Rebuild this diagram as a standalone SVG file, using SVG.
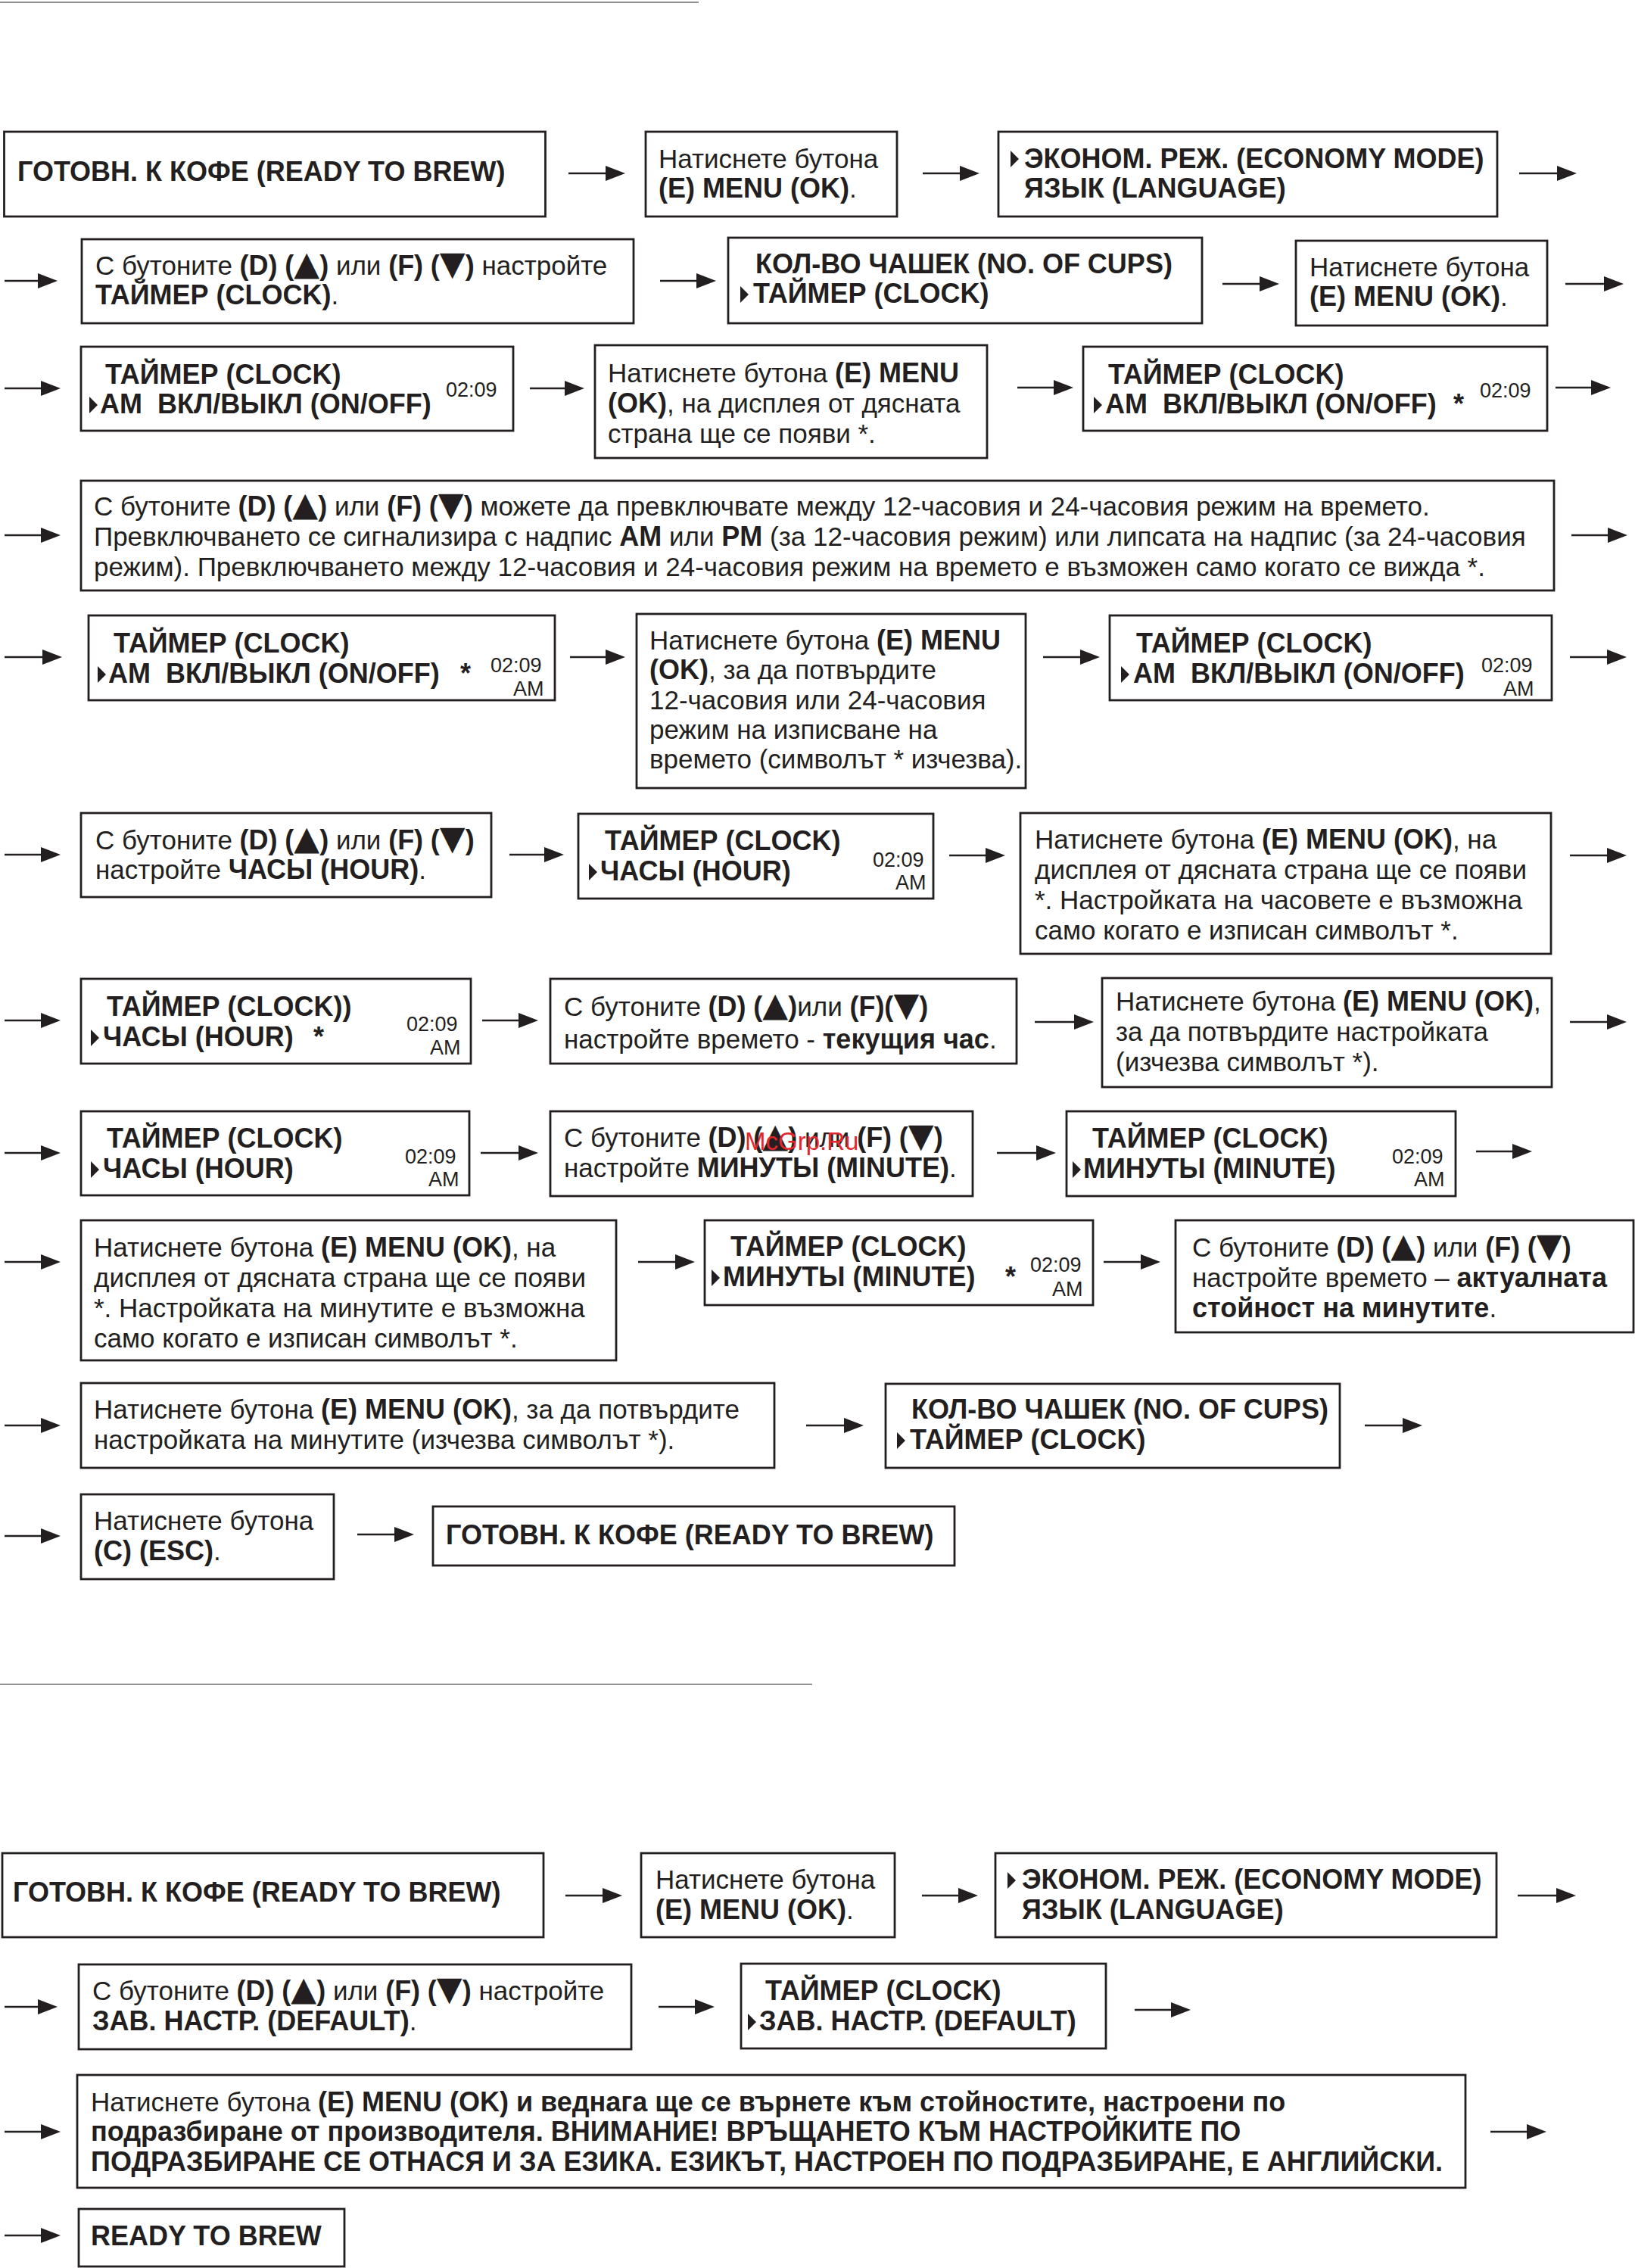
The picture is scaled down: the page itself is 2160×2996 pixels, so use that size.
<svg xmlns="http://www.w3.org/2000/svg" width="2160" height="2996" viewBox="0 0 2160 2996">
<defs>
<style>
.t{font-family:"Liberation Sans",Arial,sans-serif;font-size:35px;fill:#231f20;white-space:pre}
.b{font-weight:bold;font-size:36px}
.s{font-size:27px}
.tri{font-family:"DejaVu Sans","Liberation Sans",sans-serif;font-size:44px;font-weight:normal}
.box{fill:#fff;stroke:#231f20;stroke-width:2.8}
.ar{stroke:#231f20;stroke-width:2.6;fill:none;marker-end:url(#ah)}
.ptr{fill:#231f20}
.rule{stroke:#6d6e71;stroke-width:1.6}
.wm{font-family:"Liberation Sans",Arial,sans-serif;font-size:33px;fill:#e3262b}
</style>
<marker id="ah" markerUnits="userSpaceOnUse" markerWidth="26" markerHeight="20" viewBox="0 0 26 20" refX="6" refY="10" orient="auto">
<path d="M0,0 L26,10 L0,20 z" fill="#231f20"/>
</marker>
</defs>
<rect width="2160" height="2996" fill="#fff"/>
<line class="rule" x1="0" y1="3" x2="923" y2="3"/>
<line class="rule" x1="0" y1="2225" x2="1073" y2="2225"/>

<g id="connectors">
<line class="ar" x1="751" y1="229" x2="806" y2="229"/>
<line class="ar" x1="1219" y1="229" x2="1274" y2="229"/>
<line class="ar" x1="2007" y1="229" x2="2063" y2="229"/>
<line class="ar" x1="6" y1="371" x2="56" y2="371"/>
<line class="ar" x1="872" y1="371" x2="926" y2="371"/>
<line class="ar" x1="1615" y1="375" x2="1670" y2="375"/>
<line class="ar" x1="2068" y1="375" x2="2125" y2="375"/>
<line class="ar" x1="6" y1="513" x2="60" y2="513"/>
<line class="ar" x1="700" y1="513" x2="752" y2="513"/>
<line class="ar" x1="1344" y1="512" x2="1398" y2="512"/>
<line class="ar" x1="2055" y1="512" x2="2108" y2="512"/>
<line class="ar" x1="6" y1="707" x2="60" y2="707"/>
<line class="ar" x1="2076" y1="707" x2="2130" y2="707"/>
<line class="ar" x1="6" y1="868" x2="62" y2="868"/>
<line class="ar" x1="753" y1="868" x2="806" y2="868"/>
<line class="ar" x1="1378" y1="868" x2="1433" y2="868"/>
<line class="ar" x1="2074" y1="868" x2="2129" y2="868"/>
<line class="ar" x1="6" y1="1129" x2="60" y2="1129"/>
<line class="ar" x1="673" y1="1129" x2="725" y2="1129"/>
<line class="ar" x1="1254" y1="1130" x2="1308" y2="1130"/>
<line class="ar" x1="2074" y1="1130" x2="2129" y2="1130"/>
<line class="ar" x1="6" y1="1348" x2="60" y2="1348"/>
<line class="ar" x1="637" y1="1348" x2="691" y2="1348"/>
<line class="ar" x1="1367" y1="1350" x2="1425" y2="1350"/>
<line class="ar" x1="2074" y1="1350" x2="2129" y2="1350"/>
<line class="ar" x1="6" y1="1523" x2="60" y2="1523"/>
<line class="ar" x1="635" y1="1523" x2="691" y2="1523"/>
<line class="ar" x1="1317" y1="1523" x2="1375" y2="1523"/>
<line class="ar" x1="1950" y1="1521" x2="2004" y2="1521"/>
<line class="ar" x1="6" y1="1667" x2="60" y2="1667"/>
<line class="ar" x1="843" y1="1667" x2="898" y2="1667"/>
<line class="ar" x1="1458" y1="1667" x2="1513" y2="1667"/>
<line class="ar" x1="6" y1="1883" x2="60" y2="1883"/>
<line class="ar" x1="1065" y1="1883" x2="1121" y2="1883"/>
<line class="ar" x1="1803" y1="1883" x2="1859" y2="1883"/>
<line class="ar" x1="6" y1="2029" x2="60" y2="2029"/>
<line class="ar" x1="472" y1="2027" x2="527" y2="2027"/>
<line class="ar" x1="747" y1="2504" x2="802" y2="2504"/>
<line class="ar" x1="1218" y1="2504" x2="1272" y2="2504"/>
<line class="ar" x1="2005" y1="2504" x2="2062" y2="2504"/>
<line class="ar" x1="6" y1="2651" x2="56" y2="2651"/>
<line class="ar" x1="870" y1="2651" x2="924" y2="2651"/>
<line class="ar" x1="1499" y1="2655" x2="1553" y2="2655"/>
<line class="ar" x1="6" y1="2816" x2="60" y2="2816"/>
<line class="ar" x1="1969" y1="2816" x2="2023" y2="2816"/>
<line class="ar" x1="6" y1="2953" x2="60" y2="2953"/>
</g>

<g id="nA"><rect class="box" x="5.5" y="174" width="715" height="112"/>
<text class="t b" x="23" y="239">ГОТОВН. К КОФЕ (READY TO BREW)</text></g>

<g id="nB"><rect class="box" x="853" y="174" width="332" height="112"/>
<text class="t" x="870" y="222">Натиснете бутона</text>
<text class="t" x="870" y="261"><tspan class="b">(E) MENU (OK)</tspan>.</text></g>

<g id="nC"><rect class="box" x="1319" y="174" width="659" height="112"/>
<polygon class="ptr" points="1335,199 1346,210 1335,221"/>
<text class="t b" x="1353" y="222">ЭКОНОМ. РЕЖ. (ECONOMY MODE)</text>
<text class="t b" x="1353" y="261">ЯЗЫК (LANGUAGE)</text></g>

<g id="nD"><rect class="box" x="108" y="316" width="729" height="111"/>
<text class="t" x="126" y="363">С бутоните <tspan class="b">(D)</tspan> <tspan class="b">(<tspan class="tri">▲</tspan>)</tspan> или <tspan class="b">(F)</tspan> <tspan class="b">(<tspan class="tri">▼</tspan>)</tspan> настройте</text>
<text class="t" x="126" y="402"><tspan class="b">ТАЙМЕР (CLOCK)</tspan>.</text></g>

<g id="nE"><rect class="box" x="962" y="314" width="626" height="113"/>
<text class="t b" x="998" y="361">КОЛ-ВО ЧАШЕК (NO. OF CUPS)</text>
<polygon class="ptr" points="978,378 989,389 978,400"/>
<text class="t b" x="995" y="400">ТАЙМЕР (CLOCK)</text></g>

<g id="nF"><rect class="box" x="1712" y="318" width="332" height="112"/>
<text class="t" x="1730" y="365">Натиснете бутона</text>
<text class="t" x="1730" y="404"><tspan class="b">(E) MENU (OK)</tspan>.</text></g>

<g id="nG"><rect class="box" x="107" y="458" width="571" height="111"/>
<text class="t b" x="139" y="507">ТАЙМЕР (CLOCK)</text>
<polygon class="ptr" points="118,524 129,535 118,546"/>
<text class="t b" x="132" y="546">AM  ВКЛ/ВЫКЛ (ON/OFF)</text>
<text class="t s" x="589" y="524">02:09</text></g>

<g id="nH"><rect class="box" x="786" y="456" width="518" height="149"/>
<text class="t" x="803" y="505">Натиснете бутона <tspan class="b">(E) MENU</tspan></text>
<text class="t" x="803" y="545"><tspan class="b">(OK)</tspan>, на дисплея от дясната</text>
<text class="t" x="803" y="585">страна ще се появи *.</text></g>

<g id="nI"><rect class="box" x="1431" y="458" width="613" height="111"/>
<text class="t b" x="1464" y="507">ТАЙМЕР (CLOCK)</text>
<polygon class="ptr" points="1445,524 1456,535 1445,546"/>
<text class="t b" x="1460" y="546">AM  ВКЛ/ВЫКЛ (ON/OFF)</text>
<text class="t b" x="1920" y="546">*</text>
<text class="t s" x="1955" y="525">02:09</text></g>

<g id="nJ"><rect class="box" x="107" y="635" width="1946" height="145"/>
<text class="t" x="124" y="681">С бутоните <tspan class="b">(D)</tspan> <tspan class="b">(<tspan class="tri">▲</tspan>)</tspan> или <tspan class="b">(F)</tspan> <tspan class="b">(<tspan class="tri">▼</tspan>)</tspan> можете да превключвате между 12-часовия и 24-часовия режим на времето.</text>
<text class="t" x="124" y="721">Превключването се сигнализира с надпис <tspan class="b">AM</tspan> или <tspan class="b">PM</tspan> (за 12-часовия режим) или липсата на надпис (за 24-часовия</text>
<text class="t" x="124" y="761">режим). Превключването между 12-часовия и 24-часовия режим на времето е възможен само когато се вижда *.</text></g>

<g id="nK"><rect class="box" x="117" y="813" width="616" height="112"/>
<text class="t b" x="150" y="862">ТАЙМЕР (CLOCK)</text>
<polygon class="ptr" points="129,880 140,891 129,902"/>
<text class="t b" x="143" y="902">AM  ВКЛ/ВЫКЛ (ON/OFF)</text>
<text class="t b" x="608" y="902">*</text>
<text class="t s" x="648" y="888">02:09</text>
<text class="t s" x="678" y="919">AM</text></g>

<g id="nL"><rect class="box" x="841" y="811" width="514" height="230"/>
<text class="t" x="858" y="858">Натиснете бутона <tspan class="b">(E) MENU</tspan></text>
<text class="t" x="858" y="897"><tspan class="b">(OK)</tspan>, за да потвърдите</text>
<text class="t" x="858" y="937">12-часовия или 24-часовия</text>
<text class="t" x="858" y="976">режим на изписване на</text>
<text class="t" x="858" y="1015">времето (символът * изчезва).</text></g>

<g id="nM"><rect class="box" x="1466" y="813" width="584" height="112"/>
<text class="t b" x="1501" y="862">ТАЙМЕР (CLOCK)</text>
<polygon class="ptr" points="1481,880 1492,891 1481,902"/>
<text class="t b" x="1497" y="902">AM  ВКЛ/ВЫКЛ (ON/OFF)</text>
<text class="t s" x="1957" y="888">02:09</text>
<text class="t s" x="1986" y="919">AM</text></g>

<g id="nN"><rect class="box" x="107" y="1074" width="542" height="111"/>
<text class="t" x="126" y="1122">С бутоните <tspan class="b">(D)</tspan> <tspan class="b">(<tspan class="tri">▲</tspan>)</tspan> или <tspan class="b">(F)</tspan> <tspan class="b">(<tspan class="tri">▼</tspan>)</tspan></text>
<text class="t" x="126" y="1161">настройте <tspan class="b">ЧАСЫ (HOUR)</tspan>.</text></g>

<g id="nO"><rect class="box" x="764" y="1075" width="469" height="112"/>
<text class="t b" x="799" y="1123">ТАЙМЕР (CLOCK)</text>
<polygon class="ptr" points="778,1141 789,1152 778,1163"/>
<text class="t b" x="793" y="1163">ЧАСЫ (HOUR)</text>
<text class="t s" x="1153" y="1145">02:09</text>
<text class="t s" x="1183" y="1175">AM</text></g>

<g id="nP"><rect class="box" x="1348" y="1074" width="701" height="186"/>
<text class="t" x="1367" y="1121">Натиснете бутона <tspan class="b">(E) MENU (OK)</tspan>, на</text>
<text class="t" x="1367" y="1161">дисплея от дясната страна ще се появи</text>
<text class="t" x="1367" y="1201">*. Настройката на часовете е възможна</text>
<text class="t" x="1367" y="1241">само когато е изписан символът *.</text></g>

<g id="nQ"><rect class="box" x="107" y="1293" width="515" height="112"/>
<text class="t b" x="141" y="1342">ТАЙМЕР (CLOCK))</text>
<polygon class="ptr" points="120,1360 131,1371 120,1382"/>
<text class="t b" x="136" y="1382">ЧАСЫ (HOUR)</text>
<text class="t b" x="414" y="1382">*</text>
<text class="t s" x="537" y="1362">02:09</text>
<text class="t s" x="568" y="1393">AM</text></g>

<g id="nR"><rect class="box" x="727" y="1293" width="616" height="112"/>
<text class="t" x="745" y="1342">С бутоните <tspan class="b">(D)</tspan> <tspan class="b">(<tspan class="tri">▲</tspan>)</tspan>или <tspan class="b">(F)(<tspan class="tri">▼</tspan>)</tspan></text>
<text class="t" x="745" y="1385">настройте времето - <tspan class="b">текущия час</tspan>.</text></g>

<g id="nS"><rect class="box" x="1456" y="1292" width="594" height="144"/>
<text class="t" x="1474" y="1335">Натиснете бутона <tspan class="b">(E) MENU (OK)</tspan>,</text>
<text class="t" x="1474" y="1375">за да потвърдите настройката</text>
<text class="t" x="1474" y="1415">(изчезва символът *).</text></g>

<g id="nT"><rect class="box" x="107" y="1468" width="513" height="111"/>
<text class="t b" x="141" y="1516">ТАЙМЕР (CLOCK)</text>
<polygon class="ptr" points="120,1534 131,1545 120,1556"/>
<text class="t b" x="136" y="1556">ЧАСЫ (HOUR)</text>
<text class="t s" x="535" y="1537">02:09</text>
<text class="t s" x="566" y="1567">AM</text></g>

<g id="nU"><rect class="box" x="727" y="1468" width="558" height="112"/>
<text class="t" x="745" y="1515">С бутоните <tspan class="b">(D)</tspan> <tspan class="b">(<tspan class="tri">▲</tspan>)</tspan> или <tspan class="b">(F)</tspan> <tspan class="b">(<tspan class="tri">▼</tspan>)</tspan></text>
<text class="t" x="745" y="1555">настройте <tspan class="b">МИНУТЫ (MINUTE)</tspan>.</text>
<text class="wm" x="984" y="1519">McGrp.Ru</text></g>

<g id="nV"><rect class="box" x="1409" y="1468" width="514" height="112"/>
<text class="t b" x="1443" y="1516">ТАЙМЕР (CLOCK)</text>
<polygon class="ptr" points="1417,1534 1428,1545 1417,1556"/>
<text class="t b" x="1431" y="1556">МИНУТЫ (MINUTE)</text>
<text class="t s" x="1839" y="1537">02:09</text>
<text class="t s" x="1868" y="1567">AM</text></g>

<g id="nW"><rect class="box" x="107" y="1612" width="707" height="185"/>
<text class="t" x="124" y="1660">Натиснете бутона <tspan class="b">(E) MENU (OK)</tspan>, на</text>
<text class="t" x="124" y="1700">дисплея от дясната страна ще се появи</text>
<text class="t" x="124" y="1740">*. Настройката на минутите е възможна</text>
<text class="t" x="124" y="1780">само когато е изписан символът *.</text></g>

<g id="nX"><rect class="box" x="931" y="1612" width="513" height="112"/>
<text class="t b" x="965" y="1659">ТАЙМЕР (CLOCK)</text>
<polygon class="ptr" points="940,1677 951,1688 940,1699"/>
<text class="t b" x="955" y="1699">МИНУТЫ (MINUTE)</text>
<text class="t b" x="1328" y="1699">*</text>
<text class="t s" x="1361" y="1680">02:09</text>
<text class="t s" x="1390" y="1712">AM</text></g>

<g id="nY"><rect class="box" x="1553" y="1612" width="605" height="148"/>
<text class="t" x="1575" y="1660">С бутоните <tspan class="b">(D)</tspan> <tspan class="b">(<tspan class="tri">▲</tspan>)</tspan> или <tspan class="b">(F)</tspan> <tspan class="b">(<tspan class="tri">▼</tspan>)</tspan></text>
<text class="t" x="1575" y="1700">настройте времето – <tspan class="b">актуалната</tspan></text>
<text class="t" x="1575" y="1740"><tspan class="b">стойност на минутите</tspan>.</text></g>

<g id="nZ"><rect class="box" x="107" y="1827" width="916" height="112"/>
<text class="t" x="124" y="1874">Натиснете бутона <tspan class="b">(E) MENU (OK)</tspan>, за да потвърдите</text>
<text class="t" x="124" y="1914">настройката на минутите (изчезва символът *).</text></g>

<g id="nAA"><rect class="box" x="1170" y="1828" width="600" height="111"/>
<text class="t b" x="1204" y="1874">КОЛ-ВО ЧАШЕК (NO. OF CUPS)</text>
<polygon class="ptr" points="1185,1892 1196,1903 1185,1914"/>
<text class="t b" x="1202" y="1914">ТАЙМЕР (CLOCK)</text></g>

<g id="nAB"><rect class="box" x="107" y="1974" width="334" height="112"/>
<text class="t" x="124" y="2021">Натиснете бутона</text>
<text class="t" x="124" y="2061"><tspan class="b">(C) (ESC)</tspan>.</text></g>

<g id="nAC"><rect class="box" x="572" y="1990" width="689" height="78"/>
<text class="t b" x="589" y="2040">ГОТОВН. К КОФЕ (READY TO BREW)</text></g>

<g id="n2A"><rect class="box" x="3" y="2448" width="715" height="111"/>
<text class="t b" x="17" y="2512">ГОТОВН. К КОФЕ (READY TO BREW)</text></g>

<g id="n2B"><rect class="box" x="847" y="2448" width="335" height="111"/>
<text class="t" x="866" y="2495">Натиснете бутона</text>
<text class="t" x="866" y="2535"><tspan class="b">(E) MENU (OK)</tspan>.</text></g>

<g id="n2C"><rect class="box" x="1315" y="2448" width="662" height="111"/>
<polygon class="ptr" points="1331,2473 1342,2484 1331,2495"/>
<text class="t b" x="1350" y="2495">ЭКОНОМ. РЕЖ. (ECONOMY MODE)</text>
<text class="t b" x="1350" y="2535">ЯЗЫК (LANGUAGE)</text></g>

<g id="n2D"><rect class="box" x="104" y="2595" width="730" height="112"/>
<text class="t" x="122" y="2642">С бутоните <tspan class="b">(D)</tspan> <tspan class="b">(<tspan class="tri">▲</tspan>)</tspan> или <tspan class="b">(F)</tspan> <tspan class="b">(<tspan class="tri">▼</tspan>)</tspan> настройте</text>
<text class="t" x="122" y="2682"><tspan class="b">ЗАВ. НАСТР. (DEFAULT)</tspan>.</text></g>

<g id="n2E"><rect class="box" x="979" y="2594" width="482" height="112"/>
<text class="t b" x="1011" y="2642">ТАЙМЕР (CLOCK)</text>
<polygon class="ptr" points="988,2660 999,2671 988,2682"/>
<text class="t b" x="1003" y="2682">ЗАВ. НАСТР. (DEFAULT)</text></g>

<g id="n2F"><rect class="box" x="102" y="2741" width="1834" height="149"/>
<text class="t" x="120" y="2789">Натиснете бутона <tspan class="b">(E) MENU (OK) и веднага ще се върнете към стойностите, настроени по</tspan></text>
<text class="t b" x="120" y="2828">подразбиране от производителя. ВНИМАНИЕ! ВРЪЩАНЕТО КЪМ НАСТРОЙКИТЕ ПО</text>
<text class="t b" x="120" y="2868">ПОДРАЗБИРАНЕ СЕ ОТНАСЯ И ЗА ЕЗИКА. ЕЗИКЪТ, НАСТРОЕН ПО ПОДРАЗБИРАНЕ, Е АНГЛИЙСКИ.</text></g>

<g id="n2G"><rect class="box" x="104" y="2918" width="351" height="76"/>
<text class="t b" x="120" y="2966">READY TO BREW</text></g>
</svg>
